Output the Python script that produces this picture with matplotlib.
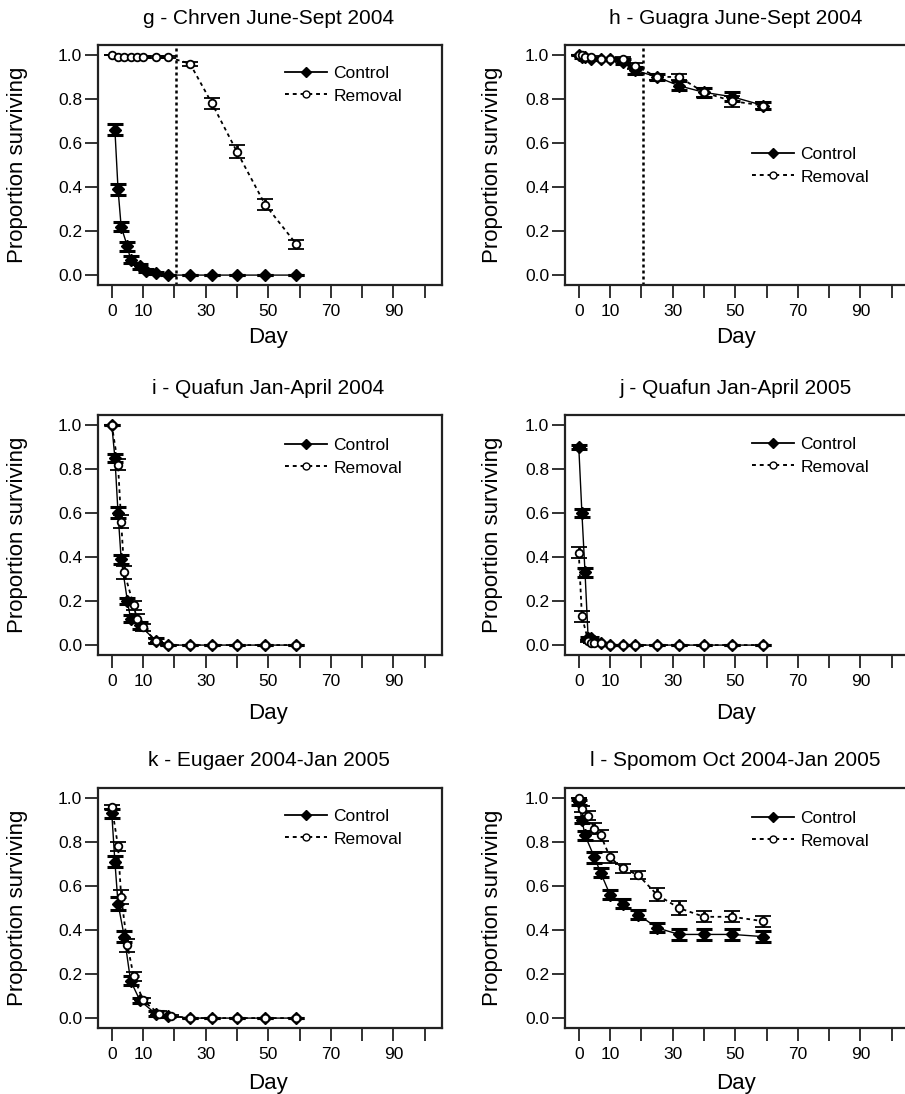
import matplotlib
matplotlib.use("Agg")
import matplotlib.pyplot as plt
from matplotlib.lines import Line2D

plt.rcParams["font.family"] = ["Liberation Sans", "DejaVu Sans"]

# panel g - Chrven June-Sept 2004
g_ctrl_day = [1, 2, 3, 5, 6, 9, 11, 14, 18, 25, 32, 40, 49, 59]
g_ctrl = [0.66, 0.39, 0.22, 0.13, 0.07, 0.04, 0.02, 0.01, 0.0, 0.0, 0.0, 0.0, 0.0, 0.0]
g_ctrl_se = [0.025, 0.025, 0.02, 0.02, 0.015, 0.012, 0.008, 0.005, 0, 0, 0, 0, 0, 0]
g_rem_day = [0, 2, 4, 6, 8, 10, 14, 18, 25, 32, 40, 49, 59]
g_rem = [1.0, 0.99, 0.99, 0.99, 0.99, 0.99, 0.99, 0.99, 0.96, 0.78, 0.56, 0.32, 0.14]
g_rem_se = [0, 0.005, 0.005, 0.005, 0.005, 0.005, 0.005, 0.005, 0.01, 0.025, 0.03, 0.025, 0.02]

# panel h - Guagra June-Sept 2004
h_day = [0, 1, 2, 4, 7, 10, 14, 18, 25, 32, 40, 49, 59]
h_ctrl = [1.0, 0.99, 0.99, 0.98, 0.98, 0.98, 0.97, 0.93, 0.90, 0.86, 0.83, 0.81, 0.77]
h_ctrl_se = [0, 0.005, 0.005, 0.005, 0.005, 0.005, 0.01, 0.015, 0.015, 0.02, 0.02, 0.02, 0.015]
h_rem = [1.0, 1.0, 0.99, 0.99, 0.98, 0.98, 0.98, 0.95, 0.90, 0.90, 0.83, 0.79, 0.77]
h_rem_se = [0, 0, 0.005, 0.005, 0.005, 0.005, 0.01, 0.015, 0.015, 0.015, 0.02, 0.025, 0.015]

# panel i - Quafun Jan-April 2004
i_ctrl_day = [0, 1, 2, 3, 5, 6, 9, 14, 18, 25, 32, 40, 49, 59]
i_ctrl = [1.0, 0.85, 0.60, 0.39, 0.20, 0.12, 0.09, 0.02, 0.0, 0.0, 0.0, 0.0, 0.0, 0.0]
i_ctrl_se = [0, 0.02, 0.025, 0.02, 0.015, 0.015, 0.015, 0.01, 0, 0, 0, 0, 0, 0]
i_rem_day = [0, 2, 3, 4, 7, 8, 10, 14, 18, 25, 32, 40, 49, 59]
i_rem = [1.0, 0.82, 0.56, 0.33, 0.18, 0.12, 0.08, 0.02, 0.0, 0.0, 0.0, 0.0, 0.0, 0.0]
i_rem_se = [0, 0.025, 0.03, 0.03, 0.02, 0.02, 0.015, 0.01, 0, 0, 0, 0, 0, 0]

# panel j - Quafun Jan-April 2005
j_ctrl_day = [0, 1, 2, 3, 4, 5, 7, 10, 14, 18, 25, 32, 40, 49, 59]
j_ctrl = [0.90, 0.60, 0.33, 0.03, 0.03, 0.02, 0.01, 0.0, 0.0, 0.0, 0.0, 0.0, 0.0, 0.0, 0.0]
j_ctrl_se = [0.01, 0.02, 0.02, 0.005, 0.005, 0.005, 0, 0, 0, 0, 0, 0, 0, 0, 0]
j_rem_day = [0, 1, 3, 4, 5, 7, 10, 14, 18, 25, 32, 40, 49, 59]
j_rem = [0.42, 0.13, 0.02, 0.01, 0.01, 0.01, 0.0, 0.0, 0.0, 0.0, 0.0, 0.0, 0.0, 0.0]
j_rem_se = [0.025, 0.025, 0.005, 0, 0, 0, 0, 0, 0, 0, 0, 0, 0, 0]

# panel k - Eugaer 2004-Jan 2005
k_ctrl_day = [0, 1, 2, 4, 6, 9, 14, 18, 25, 32, 40, 49, 59]
k_ctrl = [0.93, 0.71, 0.52, 0.37, 0.17, 0.08, 0.02, 0.01, 0.0, 0.0, 0.0, 0.0, 0.0]
k_ctrl_se = [0.02, 0.025, 0.03, 0.025, 0.02, 0.01, 0.01, 0.005, 0, 0, 0, 0, 0]
k_rem_day = [0, 2, 3, 5, 7, 10, 15, 19, 25, 32, 40, 49, 59]
k_rem = [0.96, 0.78, 0.55, 0.33, 0.19, 0.08, 0.02, 0.01, 0.0, 0.0, 0.0, 0.0, 0.0]
k_rem_se = [0.01, 0.02, 0.03, 0.03, 0.02, 0.01, 0.01, 0.005, 0, 0, 0, 0, 0]

# panel l - Spomom Oct 2004-Jan 2005
l_ctrl_day = [0, 1, 2, 5, 7, 10, 14, 19, 25, 32, 40, 49, 59]
l_ctrl = [0.98, 0.90, 0.83, 0.73, 0.66, 0.56, 0.52, 0.47, 0.41, 0.38, 0.38, 0.38, 0.37]
l_ctrl_se = [0.01, 0.015, 0.02, 0.025, 0.02, 0.02, 0.02, 0.02, 0.02, 0.025, 0.025, 0.025, 0.025]
l_rem_day = [0, 1, 3, 5, 7, 10, 14, 19, 25, 32, 40, 49, 59]
l_rem = [1.0, 0.95, 0.92, 0.86, 0.83, 0.73, 0.68, 0.65, 0.56, 0.50, 0.46, 0.46, 0.44]
l_rem_se = [0, 0.015, 0.02, 0.025, 0.025, 0.025, 0.02, 0.02, 0.03, 0.03, 0.025, 0.025, 0.025]

titles = ["g - Chrven June-Sept 2004", "h - Guagra June-Sept 2004",
          "i - Quafun Jan-April 2004", "j - Quafun Jan-April 2005",
          "k - Eugaer 2004-Jan 2005", "l - Spomom Oct 2004-Jan 2005"]
removal_start = 20.5  # dotted line in g and h

panels = [
    (g_ctrl_day, g_ctrl, g_ctrl_se, g_rem_day, g_rem, g_rem_se),
    (h_day, h_ctrl, h_ctrl_se, h_day, h_rem, h_rem_se),
    (i_ctrl_day, i_ctrl, i_ctrl_se, i_rem_day, i_rem, i_rem_se),
    (j_ctrl_day, j_ctrl, j_ctrl_se, j_rem_day, j_rem, j_rem_se),
    (k_ctrl_day, k_ctrl, k_ctrl_se, k_rem_day, k_rem, k_rem_se),
    (l_ctrl_day, l_ctrl, l_ctrl_se, l_rem_day, l_rem, l_rem_se),
]

W, H = 905, 1094
fig = plt.figure(figsize=(W / 100, H / 100), dpi=100)

col_left = [98, 565]
row_top = [45, 415, 788]
box_w, box_h = 344, 240
day_y = [338, 713, 1083]
legend_y = [72, 153, 444, 443, 815, 817]

dotted = (0, (2, 2))

for n, (cx, cy, cse, rx, ry, rse) in enumerate(panels):
    row, col = n // 2, n % 2
    left, top = col_left[col], row_top[row]
    ax = fig.add_axes([left / W, 1 - (top + box_h) / H, box_w / W, box_h / H])

    ax.plot(cx, cy, color="black", lw=1.0, zorder=2)
    ax.plot(rx, ry, color="black", lw=1.3, ls=dotted, zorder=2)
    ax.errorbar(cx, cy, yerr=cse, fmt="D", ms=6, color="black", ecolor="black",
                elinewidth=2, capsize=5.5, capthick=2.2, zorder=3)
    ax.errorbar(rx, ry, yerr=rse, fmt="o", ms=5.5, mfc="white", mec="black", mew=1.3,
                ecolor="black", elinewidth=2, capsize=5.5, capthick=2.2, zorder=4)

    if n < 2:
        ax.axvline(removal_start, color="black", lw=1.8, ls=(0, (1.2, 1.2)), zorder=1)

    ax.set_xlim(-4.4, 105.5)
    ax.set_ylim(-0.045, 1.045)
    ax.set_xticks(range(0, 101, 10))
    ax.set_xticklabels(["0", "10", "", "30", "", "50", "", "70", "", "90", ""])
    ax.set_yticks([0, 0.2, 0.4, 0.6, 0.8, 1.0])
    ax.set_yticklabels(["0.0", "0.2", "0.4", "0.6", "0.8", "1.0"])
    ax.tick_params(axis="both", length=9.4, width=1.3, labelsize=12.5, color="#222222")
    ax.tick_params(axis="y", pad=2)
    ax.tick_params(axis="x", pad=4)
    for s in ax.spines.values():
        s.set_linewidth(1.6)
        s.set_color("#222222")

    handles = [
        Line2D([], [], color="black", lw=1.3, marker="D", ms=5),
        Line2D([], [], color="black", lw=1.4, ls=dotted, marker="o", ms=5,
               mfc="white", mec="black"),
    ]
    lx = left + 187
    ax.legend(handles, ["Control", "Removal"], loc="center left",
              bbox_to_anchor=(lx / W, 1 - (legend_y[n] + 12.5) / H),
              bbox_transform=fig.transFigure, frameon=False, borderpad=0,
              borderaxespad=0, handlelength=2.4, handletextpad=0.4,
              labelspacing=0.45, fontsize=12.5)

    cx_px = left + 14 + 50 * 3.13
    fig.text(cx_px / W, 1 - (top - 27) / H, titles[n], ha="center", va="center", fontsize=15)
    fig.text(cx_px / W, 1 - day_y[row] / H, "Day", ha="center", va="center", fontsize=16)
    ylab_x = 17 if col == 0 else 492
    fig.text(ylab_x / W, 1 - (top + box_h / 2) / H, "Proportion surviving",
             ha="center", va="center", rotation=90, fontsize=16)

fig.savefig("out.png", dpi=100)
